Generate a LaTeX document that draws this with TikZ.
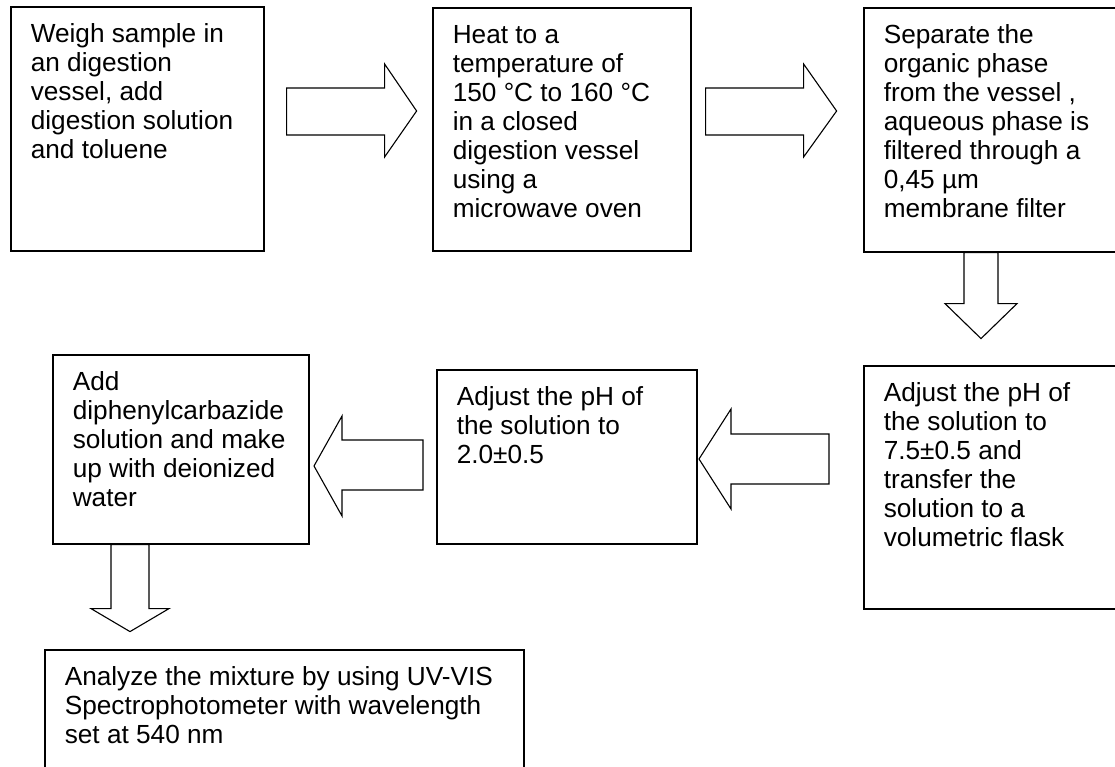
\documentclass[tikz,border=0pt]{standalone}
\usepackage{fontspec}
\setmainfont{Liberation Sans}
\hyphenpenalty=10000
\exhyphenpenalty=10000

\begin{document}
\begin{tikzpicture}[x=1pt, y=-1pt,
    stepbox/.style={draw, line width=1.6pt, anchor=north west, align=flush left,
        inner xsep=20pt, inner ysep=17pt, text height=19pt,
        font=\fontsize{26.2pt}{29pt}\selectfont},
    blockarrow/.style={draw, line width=1.1pt, line join=miter}]
    \useasboundingbox (0,0) rectangle (1115,767);
    \clip (0,0) rectangle (1115,767);

    % Top row
    \node[stepbox, text width=213pt, text depth=191pt] (weigh) at (10,6)
        {Weigh sample in\\an digestion\\vessel, add\\digestion solution\\and toluene};
    \node[stepbox, text width=218pt, text depth=190pt] (heat) at (432,7)
        {Heat to a\\temperature of\\150 °C to 160 °C\\in a closed\\digestion vessel\\using a\\microwave oven};
    \node[stepbox, text width=222pt, text depth=191pt] (separate) at (863,7)
        {Separate the\\organic phase\\from the vessel ,\\aqueous phase is\\filtered through a\\0,45 µm\\membrane filter};

    % Middle row
    \node[stepbox, text width=222pt, text depth=190pt] (adjustneutral) at (863,365)
        {Adjust the pH of\\the solution to\\7.5±0.5 and\\transfer the\\solution to a\\volumetric flask};
    \node[stepbox, text width=220pt, text depth=121pt] (adjustacid) at (436,369)
        {Adjust the pH of\\the solution to\\2.0±0.5};
    \node[stepbox, text width=216pt, text depth=136pt] (addreagent) at (52,354)
        {Add\\diphenylcarbazide\\solution and make\\up with deionized\\water};

    % Last step
    \node[stepbox, text width=439pt, text depth=107pt] (analyze) at (44,649)
        {Analyze the mixture by using UV-VIS\\Spectrophotometer with wavelength\\set at 540 nm};

    % Block arrows
    \draw[blockarrow] ([shift={(22,82)}]weigh.north east) -- ++(98,0) -- ++(0,-24)
        -- ++(32,47) -- ++(-32,46) -- ++(0,-22) -- ++(-98,0) -- cycle;
    \draw[blockarrow] ([shift={(14,81)}]heat.north east) -- ++(98,0) -- ++(0,-24)
        -- ++(33,47) -- ++(-33,46) -- ++(0,-22) -- ++(-98,0) -- cycle;
    \draw[blockarrow] ([shift={(101,0)}]separate.south west) -- ++(0,51) -- ++(-19,0)
        -- ++(36,35) -- ++(36,-35) -- ++(-19,0) -- ++(0,-51) -- cycle;
    \draw[blockarrow] ([shift={(-34,69)}]adjustneutral.north west) -- ++(-98,0) -- ++(0,-25)
        -- ++(-32,50) -- ++(32,50) -- ++(0,-25) -- ++(98,0) -- cycle;
    \draw[blockarrow] ([shift={(-13,71)}]adjustacid.north west) -- ++(-81,0) -- ++(0,-24)
        -- ++(-28,50) -- ++(28,50) -- ++(0,-26) -- ++(81,0) -- cycle;
    \draw[blockarrow] ([shift={(59,0)}]addreagent.south west) -- ++(0,64) -- ++(-20,0)
        -- ++(39,23) -- ++(39,-23) -- ++(-20,0) -- ++(0,-64) -- cycle;
\end{tikzpicture}
\end{document}
